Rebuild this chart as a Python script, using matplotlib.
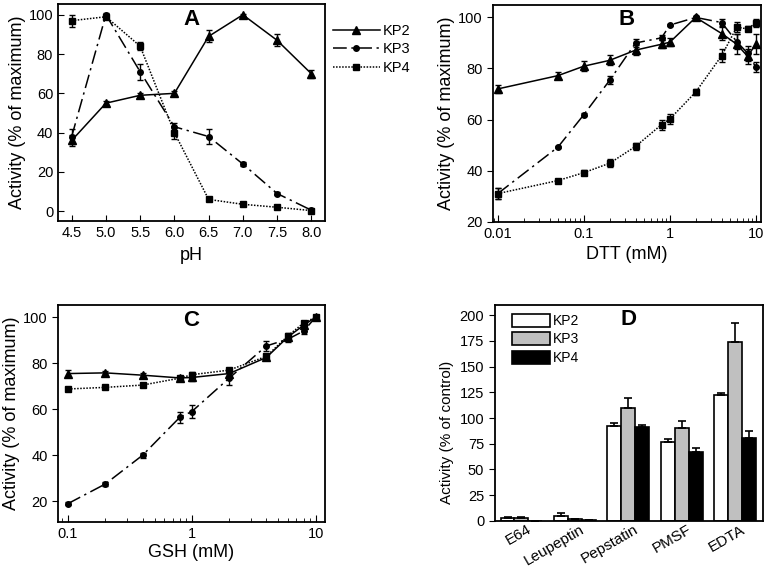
import numpy as np
import matplotlib
matplotlib.use("Agg")
import matplotlib.pyplot as plt

plt.rcParams['font.family'] = ['Liberation Sans', 'DejaVu Sans']

# panel A: pH
ph = [4.5, 5.0, 5.5, 6.0, 6.5, 7.0, 7.5, 8.0]
a_kp2 = [36, 55, 59, 60, 89, 100, 87, 70]
a_kp2_err = [3, 1, 1, 1, 3, 0.5, 3, 2]
a_kp3 = [38, 100, 71, 43, 38, 24, 9, 0.5]
a_kp3_err = [4, 1, 4, 2, 4, 1, 1, 0.5]
a_kp4 = [97, 99, 84, 40, 6, 3.5, 2, 0.3]
a_kp4_err = [3, 1, 2, 3, 0.5, 0.5, 0.5, 0.3]

# panel B: DTT
dtt = [0.01, 0.05, 0.1, 0.2, 0.4, 0.8, 1, 2, 4, 6, 8, 10]
b_kp2 = [72, 77.2, 80.9, 83.2, 87.2, 89.5, 90.3, 100, 93.7, 89.5, 84.8, 89.5]
b_kp2_err = [1.5, 1.5, 2, 2, 2, 1.5, 1.5, 0.5, 2.5, 4, 3, 4]
b_kp3 = [31, 49.2, 61.9, 75.4, 90, 92, 97, 100, 98, 90.5, 86, 80.5]
b_kp3_err = [2, 0.5, 0.5, 1.5, 1.5, 1, 0.5, 0.5, 1.5, 3, 3, 2]
b_kp4 = [31, 36.1, 39.2, 42.9, 49.5, 58, 60.2, 70.8, 85, 96.2, 95.5, 97.9]
b_kp4_err = [2, 0.8, 1, 1.5, 1.5, 2, 2, 1, 2.5, 2, 1, 1.5]

# panel C: GSH
gsh = [0.1, 0.2, 0.4, 0.8, 1, 2, 4, 6, 8, 10]
c_kp2 = [75.5, 75.8, 74.8, 73.6, 73.8, 75.5, 82.5, 91.5, 96.5, 100]
c_kp2_err = [1.5, 1, 1, 1, 1.5, 1.5, 1, 1, 1.5, 0.5]
c_kp3 = [19, 27.5, 40, 56.5, 59, 73.5, 87.5, 90.5, 94, 100]
c_kp3_err = [0.8, 0.8, 1, 2.5, 3, 3, 2, 1.5, 1.5, 0.5]
c_kp4 = [68.8, 69.5, 70.5, 73.5, 75, 77, 83, 92, 97.5, 100]
c_kp4_err = [1, 0.8, 0.8, 1, 1, 1, 1, 1, 1, 0.5]

# panel D: inhibitors
inhibitors = ['E64', 'Leupeptin', 'Pepstatin', 'PMSF', 'EDTA']
d_kp2 = [2.5, 5, 92, 77, 122]
d_kp2_err = [1, 3, 3, 3, 2]
d_kp3 = [2.5, 1.5, 110, 90, 174]
d_kp3_err = [1, 0.5, 9, 7, 18]
d_kp4 = [0, 0.5, 91, 67, 81]
d_kp4_err = [0, 0.3, 2, 4, 6]

fig = plt.figure(figsize=(7.66, 5.69), dpi=100)
axA = fig.add_axes([0.0757, 0.6116, 0.3486, 0.3814])
axB = fig.add_axes([0.6436, 0.6104, 0.35, 0.3814])
axC = fig.add_axes([0.0757, 0.0826, 0.3486, 0.3814])
axD = fig.add_axes([0.6458, 0.0844, 0.3503, 0.380])

lab_fs = 13
tick_fs = 10.5
let_font = dict(fontsize=16, fontweight='bold')

styles = [
    dict(ls='-', marker='^', ms=5.5),
    dict(ls=(0, (9, 3, 1.5, 3)), marker='o', ms=4),
    dict(ls=(0, (1, 1)), marker='s', ms=4),
]


def draw_lines(ax, x, ys, errs, names):
    for y, e, st, nm in zip(ys, errs, styles, names):
        ax.errorbar(x, y, yerr=e, color='black', lw=1.1, capsize=2.5,
                    elinewidth=1, capthick=1, mec='black', mfc='black',
                    label=nm, **st)
    for sp in ax.spines.values():
        sp.set_linewidth(1.3)


names = ['KP2', 'KP3', 'KP4']

# A
draw_lines(axA, ph, [a_kp2, a_kp3, a_kp4], [a_kp2_err, a_kp3_err, a_kp4_err], names)
axA.set_xlim(4.3, 8.2)
axA.set_ylim(-5, 105.5)
axA.set_xticks(ph)
axA.set_xticklabels(['%.1f' % v for v in ph])
axA.set_yticks([0, 20, 40, 60, 80, 100])
axA.tick_params(direction='in', labelsize=tick_fs, length=4)
axA.set_xlabel('pH', fontsize=lab_fs, labelpad=5)
axA.set_ylabel('Activity (% of maximum)', fontsize=lab_fs, labelpad=2)
axA.text(0.5, 0.93, 'A', transform=axA.transAxes, ha='center', va='center', **let_font)
leg_handles = [plt.Line2D([], [], color='black', lw=1.1, **st) for st in styles]
fig.legend(leg_handles, names, loc='upper left', bbox_to_anchor=(0.427, 0.968),
           frameon=False, fontsize=10.5, handlelength=3.2, handletextpad=0.2,
           labelspacing=0.3, borderaxespad=0)

# B
draw_lines(axB, dtt, [b_kp2, b_kp3, b_kp4], [b_kp2_err, b_kp3_err, b_kp4_err], names)
axB.set_xscale('log')
axB.set_xlim(0.0088, 11.5)
axB.set_ylim(20, 105)
axB.set_xticks([0.01, 0.1, 1, 10])
axB.set_xticklabels(['0.01', '0.1', '1', '10'])
axB.set_yticks([20, 40, 60, 80, 100])
axB.tick_params(axis='x', which='both', direction='in', labelsize=tick_fs)
axB.tick_params(axis='x', which='major', length=5)
axB.tick_params(axis='x', which='minor', length=3)
axB.tick_params(axis='y', direction='out', labelsize=tick_fs, length=4)
axB.set_xlabel('DTT (mM)', fontsize=lab_fs, labelpad=4)
axB.set_ylabel('Activity (% of maximum)', fontsize=lab_fs, labelpad=2)
axB.text(0.5, 0.93, 'B', transform=axB.transAxes, ha='center', va='center', **let_font)

# C
draw_lines(axC, gsh, [c_kp2, c_kp3, c_kp4], [c_kp2_err, c_kp3_err, c_kp4_err], names)
axC.set_xscale('log')
axC.set_xlim(0.083, 11.9)
axC.set_ylim(11, 105.3)
axC.set_xticks([0.1, 1, 10])
axC.set_xticklabels(['0.1', '1', '10'])
axC.set_yticks([20, 40, 60, 80, 100])
axC.tick_params(axis='x', which='both', direction='in', labelsize=tick_fs)
axC.tick_params(axis='x', which='major', length=5)
axC.tick_params(axis='x', which='minor', length=3)
axC.tick_params(axis='y', direction='out', labelsize=tick_fs, length=4)
axC.set_xlabel('GSH (mM)', fontsize=lab_fs, labelpad=2)
axC.set_ylabel('Activity (% of maximum)', fontsize=lab_fs, labelpad=2)
axC.text(0.5, 0.93, 'C', transform=axC.transAxes, ha='center', va='center', **let_font)

# D
x = np.arange(len(inhibitors))
w = 0.26
bar_kw = dict(edgecolor='black', linewidth=1.2, capsize=3,
              error_kw=dict(elinewidth=1.2, capthick=1.2))
for off, vals, errs, col, nm in [(-w, d_kp2, d_kp2_err, 'white', 'KP2'),
                                 (0, d_kp3, d_kp3_err, '#c0c0c0', 'KP3'),
                                 (w, d_kp4, d_kp4_err, 'black', 'KP4')]:
    axD.bar(x + off, vals, w, yerr=[np.zeros(len(errs)), errs], color=col,
            label=nm, **bar_kw)
axD.set_xlim(-0.5, 4.52)
axD.set_ylim(0, 210)
axD.set_yticks(np.arange(0, 201, 25))
# labels are right-aligned a little to the right of each group centre
axD.set_xticks(x + 0.23)
axD.set_xticklabels(inhibitors, rotation=30, ha='right', fontsize=11)
axD.tick_params(axis='x', length=0, pad=1)
axD.tick_params(axis='y', direction='out', labelsize=tick_fs, length=4)
for sp in axD.spines.values():
    sp.set_linewidth(1.3)
axD.set_ylabel('Activity (% of control)', fontsize=11, labelpad=2)
axD.yaxis.set_label_coords(-0.15, 0.41)
axD.text(0.5, 0.93, 'D', transform=axD.transAxes, ha='center', va='center', **let_font)
axD.legend(loc='upper left', bbox_to_anchor=(0.045, 0.985), frameon=False,
           fontsize=10, handlelength=2.7, handleheight=1.1, handletextpad=0.2,
           labelspacing=0.3, borderaxespad=0)

fig.savefig('out.png', dpi=100)
